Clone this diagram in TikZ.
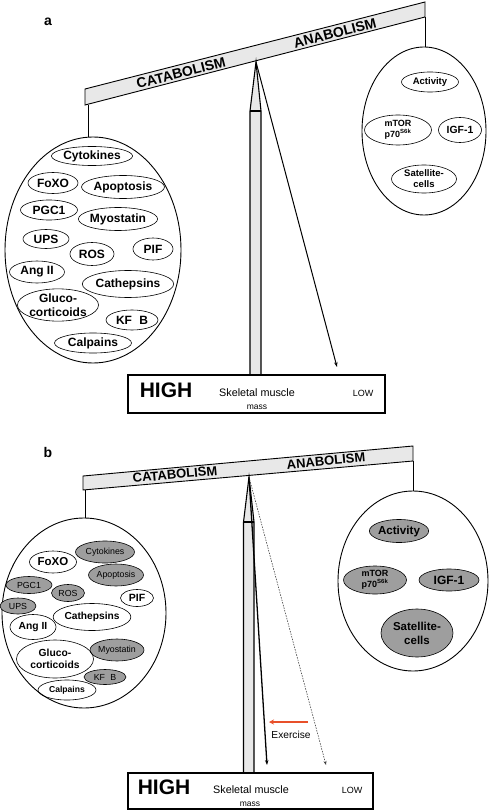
\documentclass[tikz,border=0pt]{standalone}
\usepackage{fontspec}
\setmainfont{Liberation Sans}
\usetikzlibrary{shapes.geometric,arrows.meta}
\definecolor{beamgray}{RGB}{232,232,232}
\definecolor{bubgray}{RGB}{158,158,158}
\definecolor{exred}{RGB}{232,80,42}
\newcommand\myfs[1]{\fontsize{#1}{#1}\selectfont}
\tikzset{
  bub/.style 2 args={ellipse, draw, line width=0.6pt, inner sep=0pt, minimum width=#1pt, minimum height=#2pt, align=center},
  gbub/.style 2 args={bub={#1}{#2}, fill=bubgray},
  big/.style 2 args={ellipse, draw, line width=0.9pt, inner sep=0pt, minimum width=#1pt, minimum height=#2pt},
  beam/.style={draw, fill=beamgray, line width=0.9pt, line join=miter},
  pillar/.style={draw, fill=beamgray, line width=1.1pt},
  beamtxt/.style={font=\bfseries\myfs{#1}, inner sep=0pt},
  hang/.style={line width=0.8pt},
  mbox/.style={draw, line width=1.2pt, inner sep=0pt},
  ptr/.style={line width=1pt, -{Stealth[length=5pt,width=3.5pt]}},
  fa/.style={font=\bfseries\fontsize{12}{14}\selectfont},
  fra/.style={font=\bfseries\fontsize{9.5}{11}\selectfont},
  fbw/.style={font=\bfseries\fontsize{#1}{12}\selectfont},
  fbg/.style={font=\fontsize{8.8}{10}\selectfont},
  panel/.style={font=\bfseries\myfs{14}, inner sep=0pt}
}
\begin{document}
\begin{tikzpicture}[x=1pt,y=-1pt]
\useasboundingbox (0,0) rectangle (489,810);

%% ================= Panel a =================
\node[panel] (la) at (48,22) {a};
\draw[beam] (85,89) -- (425,2) -- (425,17) -- (85,105) -- cycle;
\coordinate (aL) at (88,105);
\coordinate (aR) at (425,17);
\node[beamtxt=14, rotate=14.35] (acat) at (181,73) {CATABOLISM};
\node[beamtxt=14, rotate=14.35] (aana) at (335,33) {ANABOLISM};
% pillar
\coordinate (aapex) at (256,62);
\draw[pillar] (aapex) -- (250,111) -- (250,375) -- (261,375) -- (261,111) -- cycle;
\draw[line width=1.1pt] (250,111) -- (261,111);
% big ellipses
\node[big={176}{226}] (aLe) at (93,250) {};
\node[big={124}{168}] (aRe) at (424,131) {};
\draw[hang] (aL) -- (aL |- aLe.north);
\draw[hang] (aR) -- (aR |- aRe.north);
% left bubbles
\node[bub={80}{19}, fa] (acyt) at (92,156) {Cytokines};
\node[bub={50}{21}, fa] (afox) at (53,183) {FoXO};
\node[bub={78}{23}, fa] (aapo) at (123,187) {Apoptosis};
\node[bub={57}{20}, fa] (apgc) at (49,210) {PGC1};
\node[bub={78}{23}, fa] (amyo) at (118,219) {Myostatin};
\node[bub={46}{19}, fa] (aups) at (46,239) {UPS};
\node[bub={44}{23}, fa] (aros) at (92,254) {ROS};
\node[bub={40}{22}, fa] (apif) at (153,249) {PIF};
\node[bub={55}{22}, fa] (aang) at (37,272) {Ang II};
\node[bub={88}{27}, fa] (acath) at (128,284) {Cathepsins};
\node[bub={80}{32}, fa] (aglu) at (58,305) {Gluco-\\corticoids};
\node[bub={52}{20}, fa] (akfb) at (132,320) {KF\hspace{0.6em}B};
\node[bub={77}{20}, fa] (acal) at (93,343) {Calpains};
% right bubbles
\node[bub={57}{20}, fra] (aact) at (430,82) {Activity};
\node[bub={67}{30}, font=\bfseries\fontsize{9}{11}\selectfont] (amtor) at (398,130) {mTOR\\p70\textsuperscript{S6k}};
\node[bub={43}{25}, font=\bfseries\fontsize{10.4}{12}\selectfont] (aigf) at (460,130) {IGF-1};
\node[bub={65}{28}, fra] (asat) at (424,179) {Satellite-\\cells};
% bottom box
\node[mbox, minimum width=257pt, minimum height=38pt] (abox) at (256.5,394) {};
\node[font=\bfseries\myfs{21}, inner sep=0pt] (ahigh) at (166,390) {HIGH};
\node[font=\myfs{10.8}, inner sep=0pt] (askm) at (257,393) {Skeletal muscle};
\node[font=\myfs{8.5}, inner sep=0pt] (amass) at (257,407) {mass};
\node[font=\myfs{9}, inner sep=0pt] (alow) at (363,393) {LOW};
% pointer
\coordinate (aend) at (337,367);
\draw[ptr] (aapex) -- (aend);

%% ================= Panel b =================
\node[panel] (lb) at (48,452) {b};
\draw[beam] (83,476) -- (413,446) -- (413,461) -- (83,490) -- cycle;
\coordinate (bL) at (85,490);
\coordinate (bR) at (413,461);
\node[beamtxt=13, rotate=5.2] (bcat) at (175,474.5) {CATABOLISM};
\node[beamtxt=13, rotate=5.2] (bana) at (326,461) {ANABOLISM};
% pillar
\coordinate (bapex) at (249,477);
\draw[pillar] (bapex) -- (243.5,522) -- (243.5,773) -- (254,773) -- (254,522) -- cycle;
\draw[line width=1.1pt] (243.5,522) -- (254,522);
% big ellipses
\node[big={164}{190}] (bLe) at (84,613) {};
\node[big={150}{180}] (bRe) at (413,581) {};
\draw[hang] (bL) -- (bL |- bLe.north);
\draw[hang] (bR) -- (bR |- bRe.north);
% left bubbles (gray first)
\node[gbub={59}{22}, fbg] (bcyt) at (105,552) {Cytokines};
\node[gbub={55}{22}, fbg] (bapo) at (116,575) {Apoptosis};
\node[gbub={46}{17}, fbg] (bpgc) at (29,585) {PGC1};
\node[gbub={33}{17}, fbg] (bros) at (68,593) {ROS};
\node[gbub={36}{16}, fbg] (bups) at (18,606) {UPS};
\node[gbub={54}{22}, fbg] (bmyo) at (117,650) {Myostatin};
\node[bub={47}{22}, fbw=11.5] (bfox) at (53,562) {FoXO};
\node[bub={33}{17}, fbw=10.5] (bpif) at (137,598) {PIF};
\node[bub={77}{27}, fbw=10.2] (bcath) at (92,617) {Cathepsins};
\node[bub={46}{25}, fbw=10.3] (bang) at (33,627) {Ang II};
\node[bub={77}{38}, fbw=10.3] (bglu) at (55,659) {Gluco-\\corticoids};
\node[gbub={42}{15}, fbg] (bkfb) at (105,677) {KF\hspace{0.6em}B};
\node[bub={58}{20}, fbw=8.6] (bcal) at (67,690) {Calpains};
% right bubbles
\node[gbub={53}{23}, fbw=11.6] (bact) at (399,531) {Activity};
\node[gbub={63}{28}, font=\bfseries\fontsize{9}{11}\selectfont] (bmtor) at (375,580) {mTOR\\p70\textsuperscript{S6k}};
\node[gbub={60}{22}, fbw=12] (bigf) at (449,580) {IGF-1};
\node[gbub={72}{48}, font=\bfseries\fontsize{11.5}{14}\selectfont] (bsat) at (417,633) {Satellite-\\cells};
% bottom box
\node[mbox, minimum width=245pt, minimum height=36pt] (bbox) at (250.5,791) {};
\node[font=\bfseries\myfs{21}, inner sep=0pt] (bhigh) at (164,787) {HIGH};
\node[font=\myfs{10.8}, inner sep=0pt] (bskm) at (251,790) {Skeletal muscle};
\node[font=\myfs{8.5}, inner sep=0pt] (bmass) at (250,804) {mass};
\node[font=\myfs{9}, inner sep=0pt] (blow) at (352,790) {LOW};
% pointers
\coordinate (bend1) at (267,765);
\coordinate (bend2) at (326,765);
\draw[ptr, line width=1.3pt] (bapex) -- (bend1);
\draw[line width=0.6pt, black!75, dash pattern=on 1.5pt off 1.2pt, -{Stealth[length=4pt,width=3pt]}] (bapex) -- (bend2);
% exercise
\coordinate (exs) at (308,722);
\coordinate (exe) at (269,722);
\draw[exred, line width=1.8pt, -{Stealth[length=5pt,width=5pt]}] (exs) -- (exe);
\node[font=\myfs{10.2}, inner sep=0pt] (bex) at (291,735) {Exercise};
\end{tikzpicture}
\end{document}
